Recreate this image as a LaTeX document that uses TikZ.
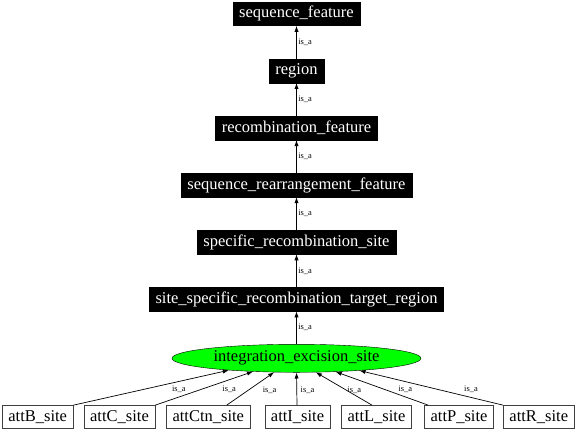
\documentclass[tikz,border=0pt]{standalone}
\usepackage{fontspec}
\setmainfont{Liberation Serif}
\usetikzlibrary{arrows.meta,shapes.geometric}

\begin{document}
\begin{tikzpicture}[x=1bp,y=1bp,node distance=57.1bp,
    term/.style={draw=black,fill=black,text=white,rectangle,minimum height=23.5bp,
        inner xsep=6.2bp,inner ysep=0pt,font=\fontsize{16.5bp}{18bp}\selectfont},
    leaf/.style={draw=black!75,fill=white,rectangle,minimum height=22.7bp,
        inner xsep=6.2bp,inner ysep=0pt,font=\fontsize{16.5bp}{18bp}\selectfont},
    isa/.style={draw=black,line width=0.7bp,-{Latex[length=6bp,width=4.2bp]}},
    lbl/.style={font=\fontsize{8.4bp}{9bp}\selectfont,inner sep=1.5bp}]
                \useasboundingbox (0,0) rectangle (576,432);
                \node[ellipse,draw=black,fill=green,minimum width=249bp,minimum height=28bp,inner sep=0pt,
                    font=\fontsize{16.5bp}{18bp}\selectfont] (ies) at (296.5,73.7) {integration\_excision\_site};
                \node[term] (ssr) [above of=ies, yshift=1.8bp] {site\_specific\_recombination\_target\_region};
                \node[term] (srs) [above of=ssr] {specific\_recombination\_site};
                \node[term] (srf) [above of=srs] {sequence\_rearrangement\_feature};
                \node[term] (rf) [above of=srf] {recombination\_feature};
                \node[term] (reg) [above of=rf] {region};
                \node[term] (sf) [above of=reg] {sequence\_feature};
                \node[leaf] (attB) at (37.7,15.3) {attB\_site};
                \node[leaf] (attC) at (119.5,15.3) {attC\_site};
                \node[leaf] (attCtn) at (208.3,15.3) {attCtn\_site};
                \node[leaf] (attI) at (297.5,15.3) {attI\_site};
                \node[leaf] (attL) at (376.5,15.3) {attL\_site};
                \node[leaf] (attP) at (459,15.3) {attP\_site};
                \node[leaf] (attR) at (538.8,15.3) {attR\_site};

                \draw[isa] (reg) -- node[lbl,right] {is\_a} (sf);
                \draw[isa] (rf) -- node[lbl,right] {is\_a} (reg);
                \draw[isa] (srf) -- node[lbl,right] {is\_a} (rf);
                \draw[isa] (srs) -- node[lbl,right] {is\_a} (srf);
                \draw[isa] (ssr) -- node[lbl,right] {is\_a} (srs);
                \draw[isa] (ies) -- node[lbl,right] {is\_a} (ssr);
                \draw[isa] (attB.north east) -- node[lbl,pos=0.466,xshift=33bp] {is\_a} (ies.190.5);
                \draw[isa] (attC.north east) -- node[lbl,pos=0.466,xshift=28.4bp] {is\_a} (ies.197.6);
                \draw[isa] ([xshift=18.4bp]attCtn.north) -- node[lbl,pos=0.466,xshift=20.8bp] {is\_a} (ies.212.7);
                \draw[isa] ([xshift=-0.5bp]attI.north) -- node[lbl,pos=0.466,xshift=10.7bp] {is\_a} (ies.270);
                \draw[isa] ([xshift=-4.5bp]attL.north) -- node[lbl,pos=0.466,xshift=8.4bp] {is\_a} (ies.324.7);
                \draw[isa] ([xshift=4bp]attP.north west) -- node[lbl,pos=0.466,xshift=20.3bp] {is\_a} (ies.341.4);
                \draw[isa] (attR.north west) -- node[lbl,pos=0.466,xshift=34.8bp] {is\_a} (ies.349.3);
            \end{tikzpicture}
\end{document}
